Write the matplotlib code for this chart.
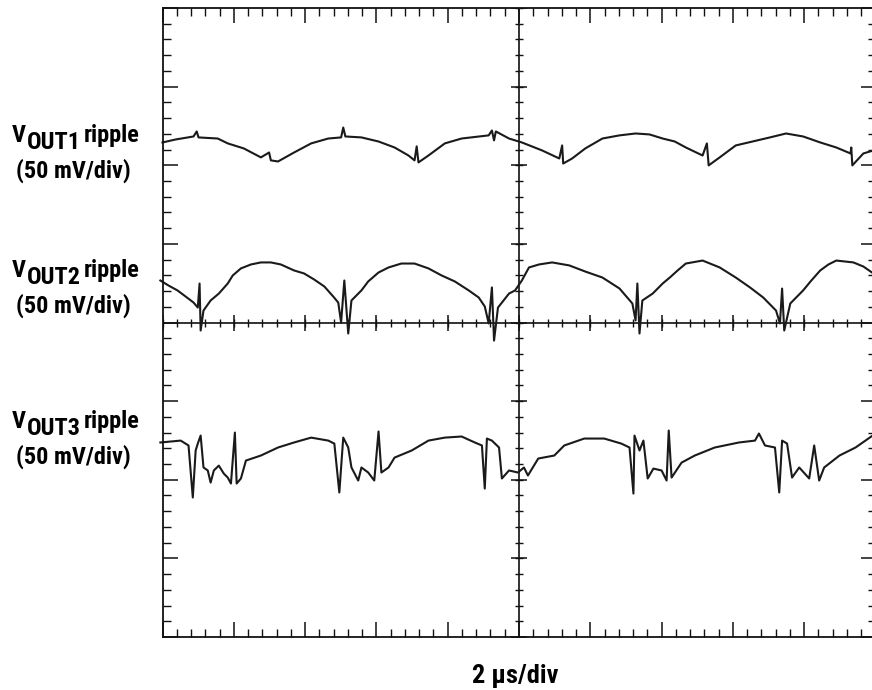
import numpy as np
import matplotlib
matplotlib.use("Agg")
import matplotlib.pyplot as plt
from matplotlib import font_manager
from matplotlib.ticker import MultipleLocator

# time in microseconds (2 us/div), ripple traces in mV on screen (50 mV/div)
t1 = [-10.0, -9.63, -9.13, -9.04, -8.99, -8.45, -8.17, -7.72, -7.24, -7.01,
      -6.96, -6.76, -6.31, -5.83, -5.35, -4.99, -4.93, -4.87, -4.42, -3.94,
      -3.49, -3.10, -2.93, -2.87, -2.82, -2.54, -2.08, -1.61, -0.85, -0.76,
      -0.70, -0.65, -0.28, 0.08, 0.65, 1.13, 1.21, 1.24, 1.49, 1.86,
      2.34, 2.82, 3.27, 3.66, 4.03, 4.37, 4.68, 5.15, 5.27, 5.32,
      5.63, 6.08, 7.04, 7.49, 7.97, 8.45, 8.90, 9.30, 9.32, 9.35,
      9.66, 9.94]
v1 = [114.5, 116.4, 118.3, 121.5, 117.7, 117.0, 113.9, 110.7, 105.0, 108.1,
      103.1, 102.4, 108.1, 113.9, 117.0, 117.7, 124.0, 118.3, 117.7, 115.1,
      111.3, 106.2, 103.1, 112.0, 101.8, 106.2, 113.9, 117.0, 119.0, 122.1,
      115.8, 121.5, 117.0, 114.5, 109.4, 104.3, 112.6, 101.1, 104.3, 110.7,
      117.0, 119.0, 120.2, 119.6, 117.0, 115.1, 111.3, 106.2, 113.9, 99.9,
      105.0, 112.6, 117.7, 120.2, 118.3, 114.5, 111.3, 107.5, 111.3, 99.9,
      107.5, 109.4]

t2 = [-10.06, -9.83, -9.58, -9.35, -9.13, -9.01, -8.96, -8.93, -8.85, -8.65,
      -8.42, -8.17, -8.03, -7.80, -7.52, -7.24, -6.96, -6.68, -6.31, -6.03,
      -5.75, -5.46, -5.21, -5.07, -4.99, -4.90, -4.79, -4.70, -4.42, -4.23,
      -3.94, -3.66, -3.30, -2.93, -2.54, -2.17, -1.80, -1.41, -1.13, -0.96,
      -0.85, -0.76, -0.70, -0.59, -0.28, -0.11, 0.08, 0.28, 0.56, 0.93,
      1.41, 1.86, 2.34, 2.82, 3.18, 3.27, 3.32, 3.38, 3.46, 3.75,
      4.03, 4.23, 4.45, 4.68, 5.15, 5.63, 6.08, 6.48, 6.85, 7.21,
      7.32, 7.38, 7.44, 7.61, 7.97, 8.20, 8.45, 8.68, 8.90, 9.38,
      9.66, 9.94]
v2 = [26.7, 23.5, 20.4, 16.5, 12.7, 9.5, 24.8, -5.1, 7.6, 14.0,
      18.4, 24.8, 29.9, 34.4, 36.9, 38.2, 38.2, 36.9, 33.1, 31.2,
      27.4, 22.9, 16.5, 12.7, 0.0, 26.7, -7.0, 14.0, 20.4, 26.1,
      31.8, 35.0, 37.5, 37.5, 34.4, 29.9, 26.1, 20.4, 15.9, 10.2,
      -0.6, 22.3, -11.5, 9.5, 18.4, 20.4, 26.7, 35.0, 36.9, 38.2,
      36.3, 32.4, 28.6, 21.6, 12.1, 1.3, 24.8, -7.0, 14.0, 18.4,
      24.8, 28.6, 33.1, 37.5, 39.4, 35.0, 28.6, 22.3, 15.9, 7.6,
      -0.6, 21.6, -5.1, 12.1, 20.4, 26.7, 33.1, 36.9, 39.4, 38.2,
      35.6, 31.2]

t3 = [-10.06, -9.49, -9.27, -9.15, -9.07, -9.01, -8.93, -8.85, -8.73, -8.65,
      -8.56, -8.42, -8.28, -8.17, -8.08, -7.97, -7.92, -7.80, -7.66, -7.24,
      -6.76, -6.31, -5.83, -5.35, -5.18, -5.04, -4.93, -4.79, -4.70, -4.51,
      -4.42, -4.23, -4.06, -3.94, -3.86, -3.66, -3.49, -3.01, -2.54, -2.08,
      -1.61, -1.24, -1.04, -0.96, -0.90, -0.76, -0.56, -0.48, -0.28, -0.03,
      0.14, 0.25, 0.54, 0.99, 1.27, 1.83, 2.39, 2.87, 3.10, 3.21,
      3.24, 3.38, 3.49, 3.61, 3.77, 4.00, 4.14, 4.20, 4.28, 4.56,
      4.93, 5.49, 6.17, 6.62, 6.73, 6.90, 7.18, 7.30, 7.38, 7.52,
      7.66, 7.86, 8.14, 8.28, 8.42, 8.56, 8.99, 9.44, 9.92]
v3 = [-76.3, -75.1, -78.2, -111.3, -81.4, -77.0, -71.9, -92.2, -94.1, -101.8,
      -94.1, -91.0, -96.1, -98.6, -102.4, -70.0, -102.4, -99.2, -87.8, -84.6,
      -79.5, -76.3, -73.2, -75.1, -77.0, -108.1, -73.2, -79.5, -92.2, -100.5,
      -92.2, -95.4, -100.5, -69.3, -95.4, -92.2, -85.9, -81.4, -75.1, -73.2,
      -72.5, -76.3, -78.2, -105.6, -73.8, -75.1, -79.5, -99.2, -94.1, -95.4,
      -92.2, -97.3, -86.5, -84.6, -78.2, -73.8, -73.8, -77.0, -79.5, -108.8,
      -71.9, -81.4, -75.1, -99.2, -92.9, -94.1, -100.5, -68.7, -98.6, -89.1,
      -84.6, -79.5, -76.3, -75.1, -70.6, -78.2, -79.5, -108.1, -75.1, -77.0,
      -98.6, -92.2, -99.2, -78.2, -100.5, -92.2, -84.6, -79.5, -71.9]

channels = ["OUT1", "OUT2", "OUT3"]
label_rows = [142, 277, 428]   # baseline of the "V" in pixels from top
x_label = "2 \u03bcs/div"
us_per_div = 2
mv_per_div = 50

# condensed bold font if we have one
names = {f.name for f in font_manager.fontManager.ttflist}
label_font = "DejaVu Sans"
for cand in ["Liberation Sans Narrow", "DejaVu Sans Condensed", "Roboto Condensed", "Liberation Sans"]:
    if cand in names:
        label_font = cand
        break

W, H = 872, 690
fig = plt.figure(figsize=(W / 100, H / 100), dpi=100)
ax = fig.add_axes([162.5 / W, 1 - 637 / H, 713 / W, 629 / H])

ax.set_xlim(-5 * us_per_div, 5 * us_per_div)
ax.set_ylim(-4 * mv_per_div, 4 * mv_per_div)
ax.xaxis.set_major_locator(MultipleLocator(us_per_div))
ax.xaxis.set_minor_locator(MultipleLocator(us_per_div / 5))
ax.yaxis.set_major_locator(MultipleLocator(mv_per_div))
ax.yaxis.set_minor_locator(MultipleLocator(mv_per_div / 5))
ax.tick_params(which="both", direction="in", top=True, right=True,
               labelbottom=False, labelleft=False, color="#111111")
ax.tick_params(which="major", length=11, width=1.1)
ax.tick_params(which="minor", length=5.5, width=1.0)
for s in ax.spines.values():
    s.set_linewidth(1.3)
    s.set_color("#111111")

# centre graticule lines with their tick marks
ax.axhline(0, color="#111111", lw=1.2)
ax.axvline(0, color="#111111", lw=1.2)
xs_minor = np.arange(-5 * us_per_div, 5 * us_per_div + 0.01, us_per_div / 5)
ys_minor = np.arange(-4 * mv_per_div, 4 * mv_per_div + 0.01, mv_per_div / 5)
xs_major = np.arange(-5 * us_per_div, 5 * us_per_div + 0.01, us_per_div)
ys_major = np.arange(-4 * mv_per_div, 4 * mv_per_div + 0.01, mv_per_div)
ax.plot(xs_minor, np.zeros_like(xs_minor), ls="none", marker="|", ms=6, mew=1, color="#111111")
ax.plot(xs_major, np.zeros_like(xs_major), ls="none", marker="|", ms=12, mew=1.1, color="#111111")
ax.plot(np.zeros_like(ys_minor), ys_minor, ls="none", marker="_", ms=6, mew=1, color="#111111")
ax.plot(np.zeros_like(ys_major), ys_major, ls="none", marker="_", ms=12, mew=1.1, color="#111111")

for t, v in [(t1, v1), (t2, v2), (t3, v3)]:
    ax.plot(t, v, color="#1a1a1a", lw=1.5, clip_on=False)

# channel labels on the left
fs = 17.5
for ch, yb in zip(channels, label_rows):
    tv = fig.text(12 / W, 1 - yb / H, "V", fontsize=fs, fontweight="bold",
                  family=label_font, ha="left", va="baseline")
    to = ax.annotate(ch, xy=(1, 0), xycoords=tv, xytext=(0.3, -5), textcoords="offset points",
                     fontsize=fs, fontweight="bold", family=label_font,
                     ha="left", va="bottom", annotation_clip=False)
    ax.annotate("ripple", xy=(1, 0), xycoords=to, xytext=(2.5, 5), textcoords="offset points",
                fontsize=fs, fontweight="bold", family=label_font,
                ha="left", va="bottom", annotation_clip=False)
    fig.text(73 / W, 1 - (yb + 29) / H, "(%d mV/div)" % mv_per_div, fontsize=fs,
             fontweight="bold", family=label_font, ha="center", va="center")

fig.text(515 / W, 1 - 676 / H, x_label, fontsize=19, fontweight="bold",
         family=label_font, ha="center", va="center")

fig.savefig("out.png", dpi=100)
